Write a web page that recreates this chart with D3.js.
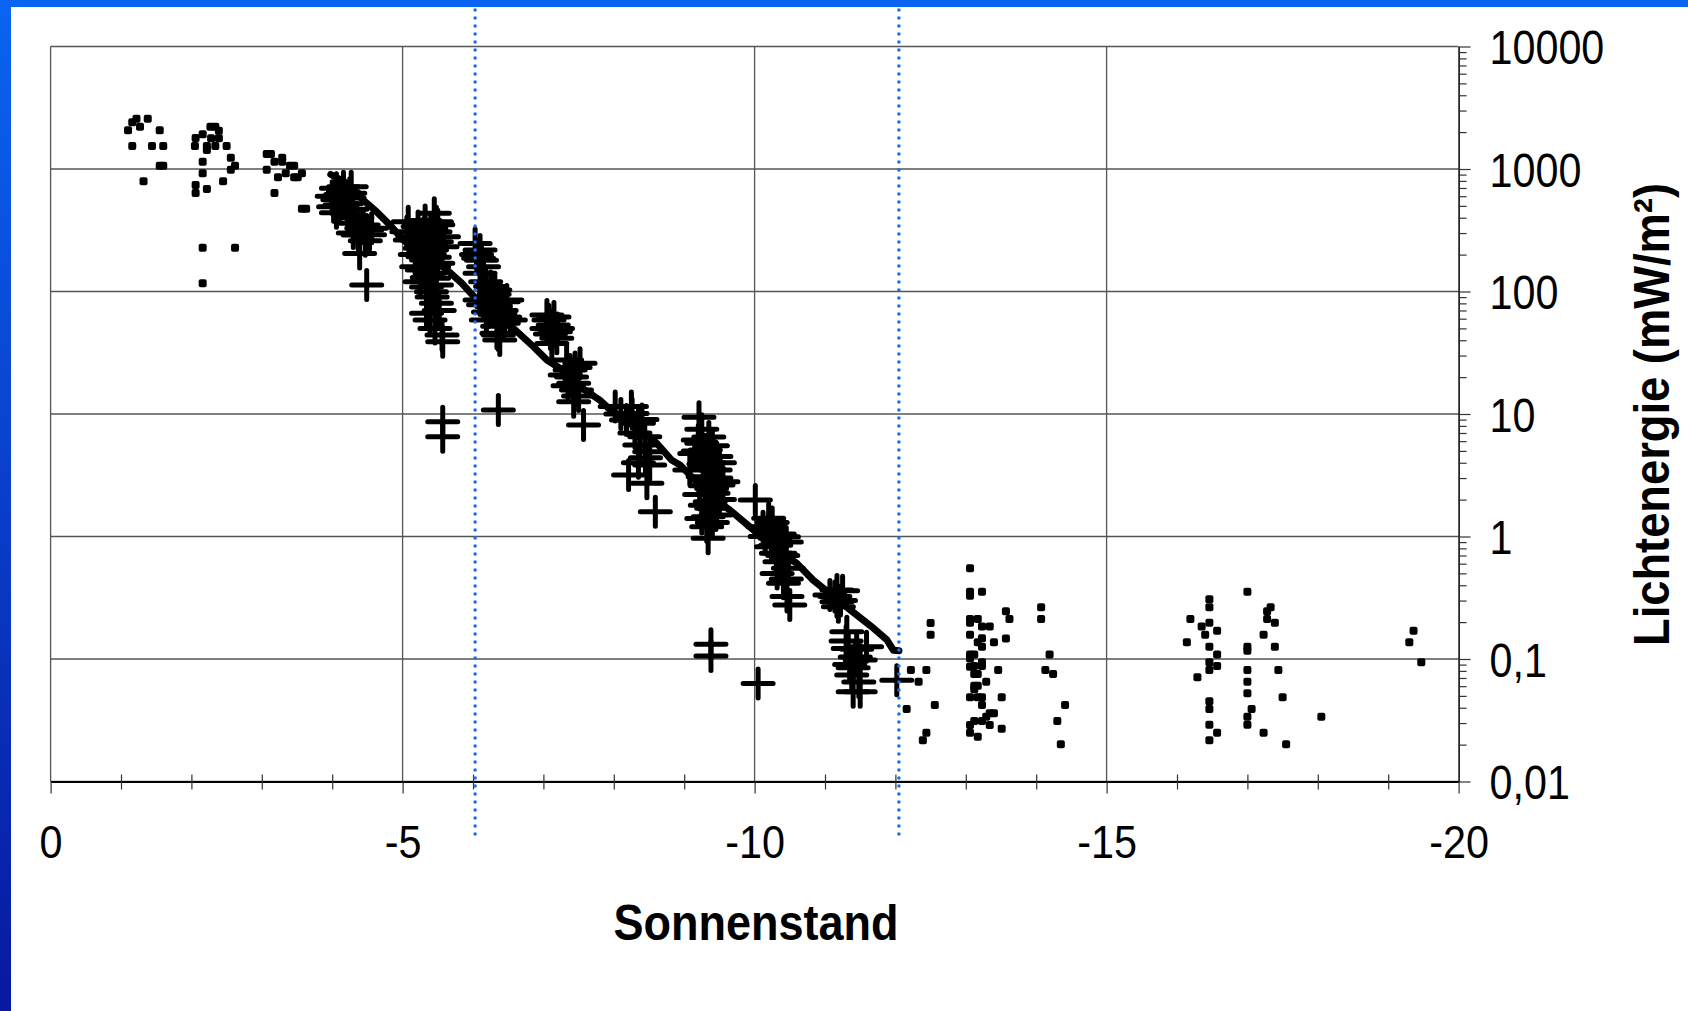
<!DOCTYPE html>
<html>
<head>
<meta charset="utf-8">
<script src="https://cdn.jsdelivr.net/npm/d3@7"></script>
<style>
    body { margin: 0; background: #fff; overflow: hidden; }
    text { font-family: "Liberation Sans", Arial, sans-serif; }
</style>
</head>
<body>
<svg width="1688" height="1011"></svg>
<script>
// small square markers: [Sonnenstand, Lichtenergie]
const dotSeries = [
    [-1.10, 2070], [-1.16, 2405], [-1.22, 2575], [-1.27, 2213], [-1.38, 2575], [-1.55, 2070],
    [-1.16, 1541], [-1.44, 1541], [-1.60, 1541], [-1.55, 1064], [-1.60, 1064], [-1.32, 794],
    [-2.06, 1791], [-2.16, 1919], [-2.27, 2213], [-2.34, 2213], [-2.39, 2056], [-2.39, 1782],
    [-2.28, 1782], [-2.05, 1541], [-2.22, 1541], [-2.22, 1429], [-2.34, 1541], [-2.50, 1541],
    [-2.56, 1236], [-2.62, 1064], [-2.56, 986], [-2.16, 1148], [-2.16, 922], [-2.06, 740],
    [-2.06, 637], [-2.22, 687], [-2.45, 794], [-2.16, 228], [-2.62, 228], [-2.16, 117],
    [-3.07, 1324], [-3.13, 1324], [-3.18, 1148], [-3.29, 1236], [-3.29, 1148], [-3.40, 1064],
    [-3.46, 1064], [-3.34, 922], [-3.46, 856], [-3.51, 856], [-3.57, 922], [-3.07, 986],
    [-3.23, 856], [-3.18, 637], [-3.57, 474], [-3.63, 474],
    [-12.22, 0.0813], [-12.44, 0.0813], [-12.33, 0.0653], [-12.16, 0.0391], [-12.56, 0.0421],
    [-12.44, 0.0250], [-12.39, 0.0217], [-12.50, 0.197], [-12.50, 0.158],
    [-13.06, 0.550], [-13.06, 0.354], [-13.06, 0.329], [-13.23, 0.354], [-13.06, 0.212],
    [-13.06, 0.198], [-13.17, 0.212], [-13.23, 0.184], [-13.34, 0.184], [-13.06, 0.158],
    [-13.17, 0.137], [-13.23, 0.148], [-13.23, 0.126], [-13.40, 0.137], [-13.06, 0.109],
    [-13.12, 0.109], [-13.06, 0.101], [-13.23, 0.094], [-13.12, 0.0877], [-13.06, 0.0865],
    [-13.23, 0.0877], [-13.12, 0.0755], [-13.17, 0.0755], [-13.29, 0.0653], [-13.12, 0.0605],
    [-13.17, 0.0605], [-13.12, 0.0566], [-13.06, 0.0487], [-13.17, 0.0487], [-13.23, 0.0487],
    [-13.23, 0.0421], [-13.34, 0.0360], [-13.40, 0.0360], [-13.29, 0.0338], [-13.23, 0.0312],
    [-13.12, 0.0312], [-13.06, 0.0289], [-13.06, 0.0250], [-13.17, 0.0232], [-13.34, 0.0289],
    [-13.51, 0.0270], [-13.46, 0.0813], [-13.51, 0.0487], [-13.57, 0.245], [-13.62, 0.212],
    [-13.57, 0.147],
    [-14.07, 0.264], [-14.07, 0.212], [-14.19, 0.109], [-14.13, 0.0813], [-14.24, 0.0755],
    [-14.41, 0.0421], [-14.30, 0.0312], [-14.35, 0.0201],
    [-16.14, 0.137], [-16.19, 0.212], [-16.35, 0.184], [-16.40, 0.158], [-16.46, 0.307],
    [-16.46, 0.264], [-16.46, 0.198], [-16.57, 0.170], [-16.46, 0.126], [-16.57, 0.109],
    [-16.46, 0.094], [-16.46, 0.0813], [-16.57, 0.0877], [-16.29, 0.0709], [-16.46, 0.0451],
    [-16.46, 0.0391], [-16.46, 0.0291], [-16.57, 0.0250], [-16.46, 0.0217],
    [-17.00, 0.354], [-17.00, 0.126], [-17.00, 0.117], [-17.00, 0.0813], [-17.00, 0.0653],
    [-17.00, 0.0525], [-17.06, 0.0391], [-17.00, 0.0338], [-17.00, 0.0291], [-17.23, 0.0250],
    [-17.23, 0.158], [-17.28, 0.245], [-17.33, 0.264], [-17.28, 0.212], [-17.39, 0.198],
    [-17.39, 0.126], [-17.44, 0.0813], [-17.50, 0.0487], [-17.55, 0.0201], [-18.05, 0.0338],
    [-19.36, 0.170], [-19.30, 0.137], [-19.47, 0.094]
];

// plus markers
const plusSeries = [
    [-4.16, 717], [-4.16, 653], [-4.16, 594], [-4.06, 696], [-4.25, 634], [-4.27, 717],
    [-4.02, 492], [-4.11, 508], [-4.06, 440], [-4.22, 430], [-4.32, 360], [-4.42, 328],
    [-4.49, 318], [-4.37, 289], [-4.56, 328], [-4.44, 349], [-4.39, 204], [-4.49, 113],
    [-4.00, 600], [-4.08, 560], [-4.20, 520], [-4.28, 470], [-4.35, 400], [-4.30, 300],
    [-4.47, 260], [-4.53, 290], [-4.12, 620], [-4.24, 580],
    [-5.45, 435], [-5.48, 371], [-5.46, 308], [-5.48, 255], [-5.41, 218], [-5.34, 181],
    [-5.44, 159], [-5.39, 141], [-5.44, 128], [-5.48, 113], [-5.08, 371], [-5.06, 308],
    [-5.11, 263], [-5.25, 225], [-5.29, 192], [-5.20, 159], [-5.34, 109], [-5.56, 232],
    [-5.58, 280], [-5.41, 99.6], [-5.34, 66.4], [-5.39, 58.5], [-5.56, 44.2], [-5.57, 38.9],
    [-5.57, 8.65], [-5.57, 6.53],
    [-5.30, 300], [-5.35, 260], [-5.40, 240], [-5.30, 210], [-5.38, 200], [-5.45, 190],
    [-5.50, 170], [-5.28, 150], [-5.35, 130], [-5.42, 90], [-5.48, 80], [-5.52, 70],
    [-5.15, 280], [-5.22, 340], [-5.32, 380], [-5.40, 330], [-5.50, 350], [-5.18, 200],
    [-5.25, 120], [-5.46, 50],
    [-6.10, 218], [-6.08, 187], [-6.15, 159], [-6.10, 141], [-6.03, 247],
    [-6.10, 85.3], [-6.27, 75.2], [-6.38, 66.4], [-6.43, 55.0], [-6.34, 45.6], [-6.19, 58.5],
    [-6.48, 85.3], [-6.38, 40.2], [-6.31, 103], [-6.43, 82.6], [-6.53, 58.5], [-6.24, 90.7],
    [-6.36, 44.2], [-6.36, 10.8],
    [-6.05, 200], [-6.12, 180], [-6.18, 120], [-6.25, 110], [-6.30, 95], [-6.40, 70],
    [-6.45, 62], [-6.35, 52], [-6.22, 68], [-6.15, 78],
    [-7.08, 58.5], [-7.14, 53.3], [-7.17, 47.0], [-7.19, 41.5], [-7.12, 37.7], [-7.05, 64.3],
    [-7.10, 45], [-7.15, 62], [-7.20, 50], [-7.05, 50],
    [-7.38, 22.9], [-7.31, 20.8], [-7.43, 17.8], [-7.47, 15.7], [-7.43, 12.6], [-7.33, 27.6],
    [-7.52, 25.9], [-7.57, 8.13], [-7.40, 20], [-7.45, 24], [-7.35, 17], [-7.50, 14],
    [-8.26, 10.1], [-8.35, 8.39], [-8.44, 6.53], [-8.18, 8.93], [-8.37, 5.59], [-8.51, 4.92],
    [-8.21, 3.18], [-8.47, 2.72], [-8.51, 3.84], [-8.59, 1.59], [-8.02, 11.5], [-8.25, 11.5],
    [-8.30, 7.0], [-8.40, 9.0], [-8.45, 4.4], [-8.10, 10], [-8.35, 4.0],
    [-9.21, 9.40], [-9.20, 6.14], [-9.25, 5.77], [-9.30, 5.08], [-9.30, 4.34], [-9.34, 3.60],
    [-9.27, 3.08], [-9.37, 2.89], [-9.39, 2.47], [-9.41, 2.25], [-9.37, 1.92], [-9.39, 1.70],
    [-9.34, 1.45], [-9.32, 1.20], [-9.34, 0.966], [-9.08, 3.49], [-9.15, 4.77], [-9.44, 3.49],
    [-9.48, 2.63], [-9.22, 2.20], [-9.38, 0.132], [-9.38, 0.106], [-10.01, 1.99], [-10.05, 0.063],
    [-9.25, 7.5], [-9.35, 6.5], [-9.40, 5.5], [-9.45, 4.5], [-9.35, 4.0], [-9.45, 3.0],
    [-9.30, 2.6], [-9.50, 2.0], [-9.30, 1.8], [-9.45, 1.5], [-9.40, 1.3], [-9.28, 3.9],
    [-9.20, 5.0], [-9.50, 4.0], [-9.55, 2.8], [-9.25, 1.4],
    [-10.20, 1.41], [-10.20, 1.13], [-10.29, 0.966], [-10.24, 0.826], [-10.31, 0.730],
    [-10.36, 0.622], [-10.12, 1.20], [-10.41, 0.996], [-10.46, 0.323], [-10.50, 0.276],
    [-10.41, 0.415], [-10.48, 0.550], [-10.36, 0.730],
    [-10.25, 1.3], [-10.35, 1.05], [-10.30, 0.85], [-10.40, 0.7], [-10.15, 1.0], [-10.45, 0.9],
    [-10.32, 0.5], [-10.45, 0.45],
    [-11.17, 0.366], [-11.14, 0.323], [-11.17, 0.294], [-11.19, 0.267], [-11.07, 0.333],
    [-11.31, 0.167], [-11.33, 0.122], [-11.43, 0.104], [-11.50, 0.098], [-11.38, 0.074],
    [-11.40, 0.054], [-11.50, 0.054], [-11.59, 0.126], [-12.02, 0.067],
    [-11.22, 0.30], [-11.25, 0.36], [-11.30, 0.14], [-11.45, 0.12], [-11.40, 0.085],
    [-11.48, 0.065], [-11.35, 0.09]
];

// running mean line
const lineSeries = [
    [-3.98, 902], [-4.18, 783], [-4.44, 558], [-4.63, 448], [-4.82, 349], [-5.01, 263],
    [-5.19, 218], [-5.39, 188], [-5.63, 150], [-5.84, 117], [-6.05, 86], [-6.31, 66],
    [-6.60, 48.5], [-6.86, 35.4], [-7.05, 27.6], [-7.24, 23.5], [-7.52, 16.7], [-7.80, 13.0],
    [-7.95, 10.8], [-8.37, 7.4], [-8.61, 5.77], [-8.82, 4.21], [-8.94, 3.84], [-9.22, 2.63],
    [-9.51, 1.87], [-9.65, 1.64], [-9.93, 1.20], [-10.29, 0.805], [-10.60, 0.604],
    [-10.83, 0.441], [-11.36, 0.251], [-11.69, 0.178], [-11.88, 0.143], [-11.97, 0.118],
    [-12.05, 0.117]
];

const xMajorTicks = [0, -5, -10, -15, -20];
const xTickLabels = ['0', '-5', '-10', '-15', '-20'];
const yTickValues = [10000, 1000, 100, 10, 1, 0.1, 0.01];
const yTickLabels = ['10000', '1000', '100', '10', '1', '0,1', '0,01'];
const twilightX = [-6.03, -12.05];

const render = () => {
    const svg = d3.select('svg');

    const xScale = d3.scaleLinear().domain([0, -20]).range([50.6, 1458.6]);
    const yScale = d3.scaleLog().domain([0.01, 10000]).range([781.5, 46.5]);

    addingFrame(svg);
    addingGrid(svg, xScale, yScale);
    addingMarks(svg, xScale, yScale);
    addingAxes(svg, xScale, yScale);
    addingTwilight(svg, xScale);
    addingLabels(svg);
};

//blue slide frame on top and left
const addingFrame = (svg) => {
    const grad = svg.append('defs').append('linearGradient')
        .attr('id', 'leftBar').attr('x1', 0).attr('y1', 0).attr('x2', 0).attr('y2', 1);
    grad.append('stop').attr('offset', '0%').attr('stop-color', '#0a64f2');
    grad.append('stop').attr('offset', '100%').attr('stop-color', '#0818a0');

    svg.append('rect').attr('x', 0).attr('y', 0).attr('width', 1688).attr('height', 7)
        .attr('fill', '#0a64f2');
    svg.append('rect').attr('x', 0).attr('y', 0).attr('width', 11).attr('height', 1011)
        .attr('fill', 'url(#leftBar)');
};

const addingGrid = (svg, xScale, yScale) => {
    const g = svg.append('g').attr('stroke', '#555').attr('stroke-width', 1.3);

    g.selectAll('.hgrid').data(yTickValues).enter().append('line')
        .attr('x1', xScale(0)).attr('x2', xScale(-20))
        .attr('y1', d => yScale(d)).attr('y2', d => yScale(d));

    g.selectAll('.vgrid').data(xMajorTicks.slice(0, 4)).enter().append('line')
        .attr('x1', d => xScale(d)).attr('x2', d => xScale(d))
        .attr('y1', yScale(10000)).attr('y2', yScale(0.01));
};

const addingMarks = (svg, xScale, yScale) => {
    const line = d3.line()
        .x(d => xScale(d[0]))
        .y(d => yScale(d[1]));

    svg.append('g').selectAll('rect').data(dotSeries).enter().append('rect')
        .attr('x', d => xScale(d[0]) - 4)
        .attr('y', d => yScale(d[1]) - 4)
        .attr('width', 8).attr('height', 8).attr('rx', 2)
        .attr('fill', '#000');

    svg.append('g').selectAll('path').data(plusSeries).enter().append('path')
        .attr('transform', d => `translate(${xScale(d[0])},${yScale(d[1])})`)
        .attr('d', 'M-15,0H15M0,-14.5V14.5')
        .attr('stroke', '#000').attr('stroke-width', 5).attr('stroke-linecap', 'round');

    svg.append('path').datum(lineSeries)
        .attr('d', line)
        .attr('fill', 'none').attr('stroke', '#000').attr('stroke-width', 7)
        .attr('stroke-linejoin', 'round').attr('stroke-linecap', 'round');
};

const addingAxes = (svg, xScale, yScale) => {
    const xAxis = d3.axisBottom(xScale)
        .tickValues(d3.range(0, -21, -1))
        .tickSize(8).tickSizeOuter(0)
        .tickFormat(d => {
            const i = xMajorTicks.indexOf(d);
            return i < 0 ? '' : xTickLabels[i];
        });

    const xAxisG = svg.append('g')
        .attr('transform', `translate(0,${yScale(0.01)})`)
        .call(xAxis);
    xAxisG.select('.domain').attr('stroke', '#000').attr('stroke-width', 2);
    xAxisG.selectAll('.tick line')
        .attr('y1', d => xMajorTicks.includes(d) ? 0 : -7)
        .attr('y2', d => xMajorTicks.includes(d) ? 12 : 8)
        .attr('stroke', '#333').attr('stroke-width', 1.2);
    xAxisG.selectAll('.tick text')
        .attr('y', 77).attr('dy', null)
        .attr('font-size', 47).attr('fill', '#000')
        .attr('font-family', '"Liberation Sans", Arial, sans-serif')
        .attr('transform', 'scale(0.88,1)');

    const minorY = d3.merge(d3.range(-2, 4).map(k => d3.range(2, 10).map(m => m * Math.pow(10, k))));
    const yAxis = d3.axisRight(yScale)
        .tickValues(yTickValues.concat(minorY))
        .tickSize(8).tickSizeOuter(0)
        .tickFormat(d => {
            const i = yTickValues.indexOf(d);
            return i < 0 ? '' : yTickLabels[i];
        });

    const yAxisG = svg.append('g')
        .attr('transform', `translate(${xScale(-20)},0)`)
        .call(yAxis);
    yAxisG.select('.domain').attr('stroke', '#000').attr('stroke-width', 1.5);
    yAxisG.selectAll('.tick line')
        .attr('x2', d => yTickValues.includes(d) ? 12 : 8)
        .attr('stroke', '#333').attr('stroke-width', 1.2);
    yAxisG.selectAll('.tick text')
        .attr('x', 36).attr('dy', '0.36em')
        .attr('font-size', 48).attr('fill', '#000')
        .attr('font-family', '"Liberation Sans", Arial, sans-serif')
        .attr('transform', 'scale(0.86,1)');
};

//blue dotted lines at the twilight limits
const addingTwilight = (svg, xScale) => {
    svg.append('g').selectAll('line').data(twilightX).enter().append('line')
        .attr('x1', d => xScale(d)).attr('x2', d => xScale(d))
        .attr('y1', 10).attr('y2', 837)
        .attr('stroke', '#1a6ff2').attr('stroke-width', 3.6)
        .attr('stroke-dasharray', '0 8').attr('stroke-linecap', 'round');
};

const addingLabels = (svg) => {
    svg.append('text')
        .attr('x', 756).attr('y', 940)
        .attr('text-anchor', 'middle')
        .attr('font-size', 50).attr('font-weight', 'bold')
        .attr('textLength', 285).attr('lengthAdjust', 'spacingAndGlyphs')
        .text('Sonnenstand');

    svg.append('text')
        .attr('transform', 'translate(1669,414.5) rotate(-90)')
        .attr('text-anchor', 'middle')
        .attr('font-size', 50).attr('font-weight', 'bold')
        .attr('textLength', 463).attr('lengthAdjust', 'spacingAndGlyphs')
        .text('Lichtenergie (mW/m²)');
};

render();
</script>
</body>
</html>
